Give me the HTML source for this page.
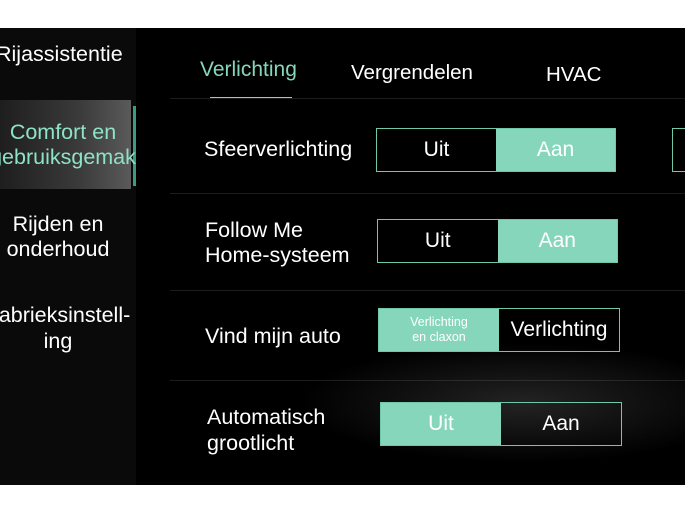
<!DOCTYPE html>
<html><head><style>
body{margin:0;width:685px;height:514px;background:#fff;position:relative;overflow:hidden;font-family:"Liberation Sans",sans-serif;}
.scr{position:absolute;left:0;top:28px;width:685px;height:457px;background:#000;overflow:hidden}
.side{position:absolute;left:0;top:0;width:136px;height:457px;background:#0a0a0a}
.t{position:absolute;color:#fff;white-space:nowrap}
.c{text-align:center}
.hl{position:absolute;left:0;top:72px;width:131px;height:89px;background:linear-gradient(90deg,#1e1e1e,#3a3a3a 60%,#5a5a5a)}
.tg{position:absolute;border:1px solid #6fc8ac;height:42px;display:flex}
.tg div{flex:1;display:flex;align-items:center;justify-content:center;color:#fff;font-size:21px;text-align:center}
.on{background:#86d6bc}
.sep{position:absolute;left:170px;width:515px;height:1px;background:#1c1c1c}
.wave{position:absolute;left:280px;top:310px;width:405px;height:130px;background:radial-gradient(ellipse at 60% 50%,rgba(140,140,140,.25),transparent 65%)}
</style></head><body>
<div class="scr">
<div class="side"></div>
<div class="hl"></div>
<div style="position:absolute;left:133px;top:78px;width:3px;height:80px;background:#3a9c80"></div>
<div class="t" style="left:-4px;top:14px;font-size:21.5px">Rijassistentie</div>
<div class="t c" style="left:-14px;width:154px;top:92px;font-size:21.5px;line-height:25px;color:#8ee2c6">Comfort en<br>gebruiksgemak</div>
<div class="t c" style="left:-10px;width:136px;top:184px;font-size:21.5px;line-height:25px">Rijden en<br>onderhoud</div>
<div class="t c" style="left:-24px;width:164px;top:274px;font-size:21.5px;line-height:26px">Fabrieksinstell-<br>ing</div>
<div class="t" style="left:200px;top:30px;font-size:21px;color:#86d6bc">Verlichting</div>
<div style="position:absolute;left:210px;top:69px;width:82px;height:2px;background:#86d6bc"></div>
<div class="t" style="left:351px;top:33px;font-size:20.5px">Vergrendelen</div>
<div class="t" style="left:546px;top:35px;font-size:20.5px">HVAC</div>
<div class="sep" style="top:70px"></div><div class="sep" style="top:165px"></div><div class="sep" style="top:262px"></div><div class="sep" style="top:352px"></div>
<div class="wave"></div>
<div class="t" style="left:204px;top:109px;font-size:21.5px">Sfeerverlichting</div>
<div class="t" style="left:205px;top:190px;font-size:21.5px;line-height:25px">Follow Me<br>Home-systeem</div>
<div class="t" style="left:205px;top:296px;font-size:21.5px">Vind mijn auto</div>
<div class="t" style="left:207px;top:376px;font-size:21.5px;line-height:26px">Automatisch<br>grootlicht</div>
<div class="tg" style="left:376px;top:100px;width:238px"><div>Uit</div><div class="on">Aan</div></div>
<div class="tg" style="left:672px;top:100px;width:20px"></div>
<div class="tg" style="left:377px;top:191px;width:239px"><div>Uit</div><div class="on">Aan</div></div>
<div class="tg" style="left:378px;top:280px;width:240px"><div class="on" style="font-size:12.5px;line-height:15px">Verlichting<br>en claxon</div><div>Verlichting</div></div>
<div class="tg" style="left:380px;top:374px;width:240px"><div class="on">Uit</div><div>Aan</div></div>
</div>
</body></html>
